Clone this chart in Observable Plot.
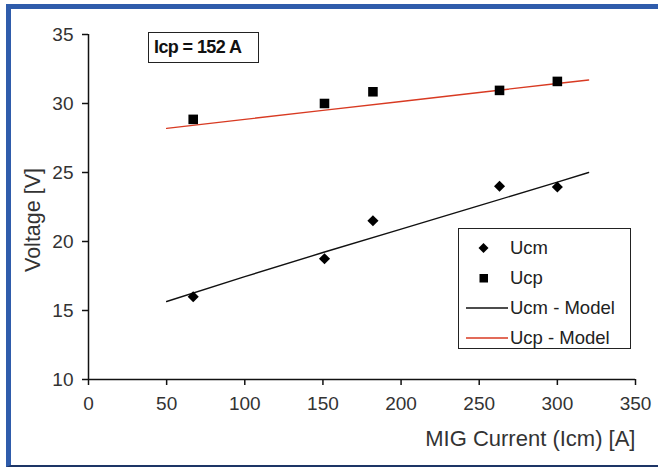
<!DOCTYPE html>
<html>
<head>
<meta charset="utf-8">
<script src="https://cdn.jsdelivr.net/npm/d3@7"></script>
<script src="https://cdn.jsdelivr.net/npm/@observablehq/plot@0.6"></script>
<style>
  html, body { margin: 0; padding: 0; background: #fff; }
  #wrap { position: relative; width: 658px; height: 469px; overflow: hidden; font-family: "Liberation Sans", Arial, sans-serif; }
  #frame { position: absolute; left: 6px; top: 4px; width: 648px; height: 456px;
           border-left: 5px solid #2f5cab; border-top: 5px solid #2f5cab;
           border-bottom: 2px solid #1d3566; border-right: 1px solid #e4e4e4; }
  #chart { position: absolute; left: 0; top: 0; }
  .box { position: absolute; border: 1.5px solid #222; background: #fff; box-sizing: border-box; }
  #title { left: 148px; top: 32px; width: 111px; height: 31px; font-weight: bold; font-size: 18px;
           letter-spacing: -0.6px; line-height: 29px; padding-left: 5px; color: #111; }
  #legend { left: 458px; top: 228px; width: 173px; height: 121px; font-size: 18.5px; color: #222; }
  .row { position: absolute; left: 0; height: 30px; width: 100%; }
  .row span { position: absolute; left: 51px; top: 50%; transform: translateY(-50%); white-space: nowrap; }
  .row svg { position: absolute; left: 0; top: 0; }
</style>
</head>
<body>
<div id="wrap">
  <div id="frame"></div>
  <div id="chart"></div>
  <div id="title" class="box">Icp = 152 A</div>
  <div id="legend" class="box"></div>
</div>
<script>
// Measured points
const current = [67, 151, 182, 263, 300];
const ucm = [16.0, 18.75, 21.5, 24.0, 23.95];
const ucp = [28.85, 30.0, 30.85, 30.95, 31.6];
// Model lines
const modelCurrent = [50, 100, 150, 200, 250, 300, 320];
const ucmModel = [15.65, 17.45, 19.2, 20.9, 22.6, 24.3, 25.0];
const ucpModel = [28.2, 28.85, 29.5, 30.15, 30.8, 31.45, 31.7];
// Axes
const xTicks = [0, 50, 100, 150, 200, 250, 300, 350];
const yTicks = [10, 15, 20, 25, 30, 35];
const xLabel = "MIG Current (Icm) [A]";
const yLabel = "Voltage [V]";
const legendItems = ["Ucm", "Ucp", "Ucm - Model", "Ucp - Model"];

const RED = "#d83a22";
const pts = current.map((c, i) => ({c, ucm: ucm[i], ucp: ucp[i]}));
const model = modelCurrent.map((c, i) => ({c, ucm: ucmModel[i], ucp: ucpModel[i]}));

const chart = Plot.plot({
  width: 658,
  height: 469,
  marginLeft: 88,
  marginRight: 23,
  marginTop: 34,
  marginBottom: 90,
  style: {background: "transparent", fontFamily: "'Liberation Sans', Arial, sans-serif"},
  x: {domain: [0, 350]},
  y: {domain: [10, 35]},
  marks: [
    Plot.axisX({ticks: xTicks, tickSize: 6, tickPadding: 11, fontSize: 19, color: "#333", label: null, stroke: "#111", strokeWidth: 1.5}),
    Plot.axisY({ticks: yTicks, tickSize: 6, tickPadding: 9, fontSize: 19, color: "#333", label: null, stroke: "#111", strokeWidth: 1.5}),
    Plot.ruleY([10], {stroke: "#111", strokeWidth: 1.5}),
    Plot.ruleX([0], {stroke: "#111", strokeWidth: 1.5}),
    Plot.line(model, {x: "c", y: "ucm", stroke: "#111", strokeWidth: 1.4}),
    Plot.line(model, {x: "c", y: "ucp", stroke: RED, strokeWidth: 1.4}),
    Plot.dot(pts, {x: "c", y: "ucm", symbol: "diamond2", r: 5, fill: "#000", stroke: "none"}),
    Plot.dot(pts, {x: "c", y: "ucp", symbol: "square", r: 5.4, fill: "#000", stroke: "none"}),
    Plot.text([xLabel], {frameAnchor: "bottom-right", textAnchor: "end", lineAnchor: "middle", dy: 59, fontSize: 22, fill: "#333"}),
    Plot.text([yLabel], {frameAnchor: "left", rotate: -90, textAnchor: "middle", lineAnchor: "middle", dx: -55, dy: 13, fontSize: 21.5, fill: "#333"})
  ]
});
document.getElementById("chart").appendChild(chart);

// Legend
const legend = document.getElementById("legend");
const rowsY = [4, 34, 64, 94];
legendItems.forEach((name, i) => {
  const row = document.createElement("div");
  row.className = "row";
  row.style.top = rowsY[i] + "px";
  let sym = "";
  if (i === 0) sym = `<svg width="50" height="30"><path d="M24.5,10 L29.5,15 L24.5,20 L19.5,15 Z" fill="#000"/></svg>`;
  else if (i === 1) sym = `<svg width="50" height="30"><rect x="20.5" y="11" width="8.5" height="8.5" fill="#000"/></svg>`;
  else sym = `<svg width="50" height="30"><line x1="7" x2="49" y1="15" y2="15" stroke="${i === 2 ? "#111" : RED}" stroke-width="1.4"/></svg>`;
  row.innerHTML = sym + `<span>${name}</span>`;
  legend.appendChild(row);
});
</script>
</body>
</html>
